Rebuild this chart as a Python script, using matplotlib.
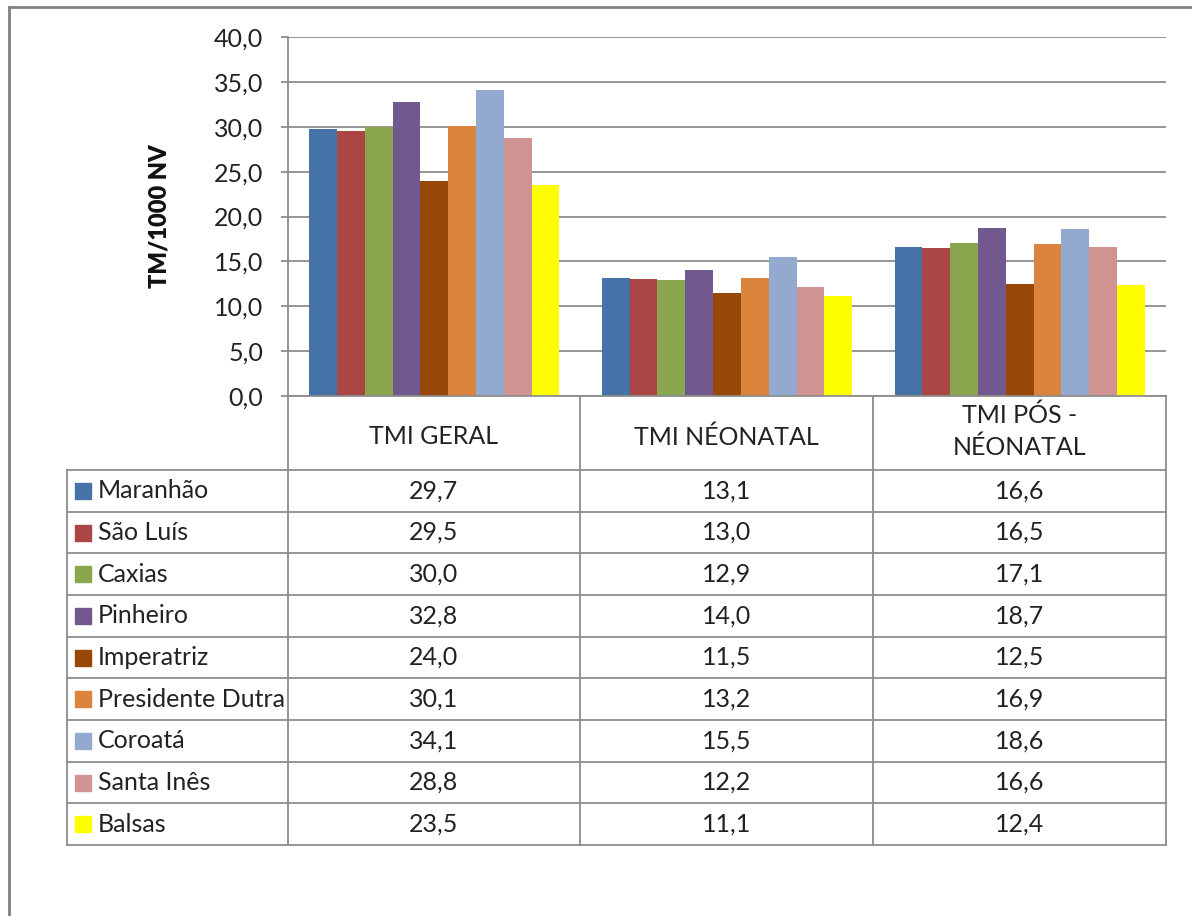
import matplotlib
matplotlib.use("Agg")
import matplotlib.pyplot as plt
from matplotlib.lines import Line2D
from matplotlib.patches import Rectangle
import numpy as np

# Data
categories = ["TMI GERAL", "TMI NÉONATAL", "TMI PÓS -\nNÉONATAL"]
places = ["Maranhão", "São Luís", "Caxias", "Pinheiro", "Imperatriz",
          "Presidente Dutra", "Coroatá", "Santa Inês", "Balsas"]
geral = [29.7, 29.5, 30.0, 32.8, 24.0, 30.1, 34.1, 28.8, 23.5]
neonatal = [13.1, 13.0, 12.9, 14.0, 11.5, 13.2, 15.5, 12.2, 11.1]
pos_neonatal = [16.6, 16.5, 17.1, 18.7, 12.5, 16.9, 18.6, 16.6, 12.4]
colors = ["#4572A7", "#AA4643", "#89A54E", "#71588F", "#974706",
          "#DB843D", "#93A9CF", "#D19392", "#FFFF00"]
y_ticks = np.arange(0, 45, 5)

values = np.array([geral, neonatal, pos_neonatal]).T  # rows = places

W, H = 1192, 916
plt.rcParams['font.family'] = ['Lato', 'DejaVu Sans']
fig = plt.figure(figsize=(W / 100, H / 100), dpi=100)

FS = 18
txt_c = "#222222"


def fx(px):
    return px / W


def fy(py):
    return 1 - py / H


grid_c = "#8c8c8c"
x0, x1, y_top, y_bot = 288, 1166, 37, 396
ax = fig.add_axes([fx(x0), fy(y_bot), fx(x1 - x0), (y_bot - y_top) / H])

n = len(places)
gap = 0.145
bw = (1 - gap) / n
xc = np.arange(len(categories))
for i in range(n):
    ax.bar(xc - 0.5 + gap / 2 + bw * (i + 0.5), values[i], width=bw,
           color=colors[i], zorder=3)

ax.set_xlim(-0.5, len(categories) - 0.5)
ax.set_ylim(0, 40)
ax.set_yticks(y_ticks)
ax.set_yticklabels([f"{t:.1f}".replace(".", ",") for t in y_ticks],
                   fontsize=FS, color=txt_c)
ax.set_xticks([])
ax.yaxis.grid(True, color=grid_c, linewidth=1.3, zorder=0)
ax.tick_params(axis="y", length=5, color=grid_c, width=1.3, pad=13)
for s in ["top", "right", "bottom"]:
    ax.spines[s].set_visible(False)
ax.spines["left"].set_color(grid_c)
ax.spines["left"].set_linewidth(1.3)
ax.set_ylabel("TM/1000 NV", fontsize=17, fontweight="heavy", color="#111111")
ax.yaxis.set_label_coords(-(288 - 160) / (x1 - x0), 0.5)
ax.yaxis.label.set_va("center")


def hline(y, xa, xb):
    fig.add_artist(Line2D([fx(xa), fx(xb)], [fy(y), fy(y)], color=grid_c,
                          linewidth=1.3))


def vline(x, ya, yb):
    fig.add_artist(Line2D([fx(x), fx(x)], [fy(ya), fy(yb)], color=grid_c,
                          linewidth=1.3))


# data table under the chart
col_x = [288, 580, 873, 1166]
head_bot = 470
tab_bot = 845
row_h = (tab_bot - head_bot) / n
for x in col_x:
    vline(x, y_bot, tab_bot)
vline(67, head_bot, tab_bot)
hline(y_bot, 288, 1166)
for r in range(n + 1):
    hline(head_bot + r * row_h, 67, 1166)

for j, cat in enumerate(categories):
    cx = (col_x[j] + col_x[j + 1]) / 2
    cy = 437 if "\n" not in cat else 431
    fig.text(fx(cx), fy(cy), cat, ha="center",
             va="center", fontsize=FS, color=txt_c, linespacing=1.45)

for i, name in enumerate(places):
    cy = head_bot + (i + 0.5) * row_h
    fig.add_artist(Rectangle((fx(75), fy(cy + 8)), fx(16), 16 / H,
                             color=colors[i]))
    fig.text(fx(98), fy(cy), name, ha="left", va="center", fontsize=FS,
             color=txt_c)
    for j in range(len(categories)):
        cx = (col_x[j] + col_x[j + 1]) / 2
        fig.text(fx(cx), fy(cy), f"{values[i, j]:.1f}".replace(".", ","),
                 ha="center", va="center", fontsize=FS, color=txt_c)

# outer frame
fig.add_artist(Line2D([fx(9), fx(W)], [fy(7), fy(7)], color="#808080",
                      linewidth=2))
fig.add_artist(Line2D([fx(9), fx(9)], [fy(7), 0], color="#808080",
                      linewidth=2))

fig.savefig("out.png", dpi=100)
